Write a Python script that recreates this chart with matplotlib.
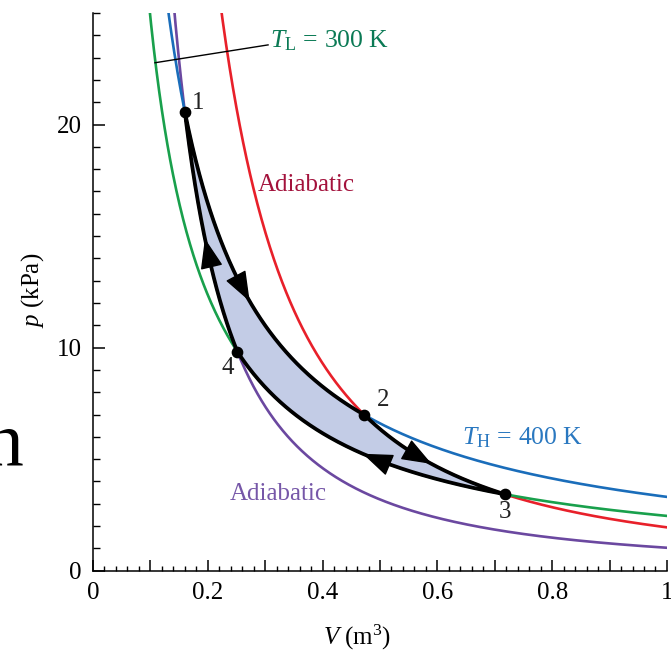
import numpy as np
import matplotlib
matplotlib.use("Agg")
import matplotlib.pyplot as plt
from matplotlib.ticker import MultipleLocator, FuncFormatter

# corner states of the cycle (V in m^3, p in kPa)
V_pts = [0.160, 0.473, 0.717, 0.2515]
p_pts = [20.57, 6.98, 3.43, 9.82]
pt_labels = ["1", "2", "3", "4"]
pt_label_pos = [(0.183, 20.97), (0.505, 7.65), (0.718, 2.63), (0.235, 9.09)]

# where the arrowheads sit on each leg (tip V)
arrow_V = [0.273, 0.590, 0.470, 0.195]

C_HOT = "#1a6dba"
C_COLD = "#19a04c"
C_AD_23 = "#e8202a"
C_AD_41 = "#6b48a0"

plt.rcParams["font.family"] = ["Liberation Serif", "DejaVu Serif"]
plt.rcParams["mathtext.fontset"] = "custom"
plt.rcParams["mathtext.rm"] = "Liberation Serif"
plt.rcParams["mathtext.it"] = "Liberation Serif:italic"


def through(i, j, V):
    # power law p*V^k = const passing through corners i and j
    k = np.log(p_pts[i] / p_pts[j]) / np.log(V_pts[j] / V_pts[i])
    return p_pts[i] * (V_pts[i] / V) ** k


fig = plt.figure(figsize=(6.71, 6.50), dpi=100)
ax = fig.add_axes([0.1386, 0.122, 0.8554, 0.858])

V = np.linspace(0.05, 1.0, 800)
ax.plot(V, through(0, 3, V), color=C_AD_41, lw=1.9, zorder=2)
ax.plot(V, through(0, 1, V), color=C_HOT, lw=1.9, zorder=2)
ax.plot(V, through(1, 2, V), color=C_AD_23, lw=1.9, zorder=2)
ax.plot(V, through(3, 2, V), color=C_COLD, lw=1.9, zorder=2)

# the cycle itself
leg12 = np.linspace(V_pts[0], V_pts[1], 200)
leg23 = np.linspace(V_pts[1], V_pts[2], 200)
leg34 = np.linspace(V_pts[2], V_pts[3], 200)
leg41 = np.linspace(V_pts[3], V_pts[0], 200)
cyc_V = np.concatenate([leg12, leg23, leg34, leg41])
cyc_p = np.concatenate([through(0, 1, leg12), through(1, 2, leg23),
                        through(3, 2, leg34), through(0, 3, leg41)])
ax.fill(cyc_V, cyc_p, color="#c3cce6", lw=0, zorder=3)
ax.plot(cyc_V, cyc_p, color="black", lw=2.7, zorder=4, solid_joinstyle="round")

legs = [(0, 1, +1), (1, 2, +1), (3, 2, -1), (0, 3, -1)]
for (i, j, d), vt in zip(legs, arrow_V):
    v0 = vt - d * 0.02
    ax.annotate("", xy=(vt, through(i, j, vt)), xytext=(v0, through(i, j, v0)),
                arrowprops=dict(arrowstyle="-|>,head_length=0.8,head_width=0.3",
                                color="black", lw=1, shrinkA=0, shrinkB=0,
                                mutation_scale=24), zorder=5)

ax.scatter(V_pts, p_pts, s=55, color="black", zorder=6)
for lab, (x, y) in zip(pt_labels, pt_label_pos):
    ax.text(x, y, lab, fontsize=18, ha="center", va="center", color="#222222")

# curve labels
ax.plot([0.108, 0.305], [22.77, 23.57], color="black", lw=1.0, zorder=5)
ax.text(0.308, 23.75, r"$T_{\rm L}\,=\,300\ {\rm K}$", color="#0b7a55", fontsize=18.5,
        ha="left", va="center")
ax.text(0.287, 17.3, "Adiabatic", color="#a3123c", fontsize=18, ha="left", va="center")
ax.text(0.643, 5.95, r"$T_{\rm H}\,=\,400\ {\rm K}$", color="#2a78c0", fontsize=18.5,
        ha="left", va="center")
ax.text(0.239, 3.44, "Adiabatic", color="#7657a8", fontsize=18, ha="left", va="center")

ax.set_xlim(0, 1)
ax.set_ylim(0, 25)
for s in ["top", "right"]:
    ax.spines[s].set_visible(False)
for s in ["left", "bottom"]:
    ax.spines[s].set_linewidth(1.1)

ax.xaxis.set_major_locator(MultipleLocator(0.1))
ax.xaxis.set_minor_locator(MultipleLocator(0.02))
ax.xaxis.set_major_formatter(FuncFormatter(
    lambda x, _: "" if round(x * 10) % 2 else ("0" if x == 0 else ("1" if x == 1 else f"{x:.1f}"))))
ax.yaxis.set_major_locator(MultipleLocator(10))
ax.yaxis.set_minor_locator(MultipleLocator(1))
ax.tick_params(axis="x", which="major", direction="in", length=8, width=1.1,
               labelsize=18, pad=8)
ax.tick_params(axis="x", which="minor", direction="in", length=3.6, width=1.0)
ax.tick_params(axis="y", which="major", direction="in", length=8.6, width=1.1,
               labelsize=18, pad=8)
ax.tick_params(axis="y", which="minor", direction="in", length=5, width=1.0)

ax.set_xlabel(r"$V$ (m$^3$)", fontsize=18)
ax.set_ylabel(r"$p$ (kPa)", fontsize=18)
ax.xaxis.set_label_coords(0.46, -0.094)
ax.yaxis.set_label_coords(-0.082, 0.503)

# stray glyph from the neighbouring page
fig.text(-0.024, 0.2846, "n", fontsize=56, ha="left", va="baseline", color="black")

fig.savefig("out.png", dpi=100)
